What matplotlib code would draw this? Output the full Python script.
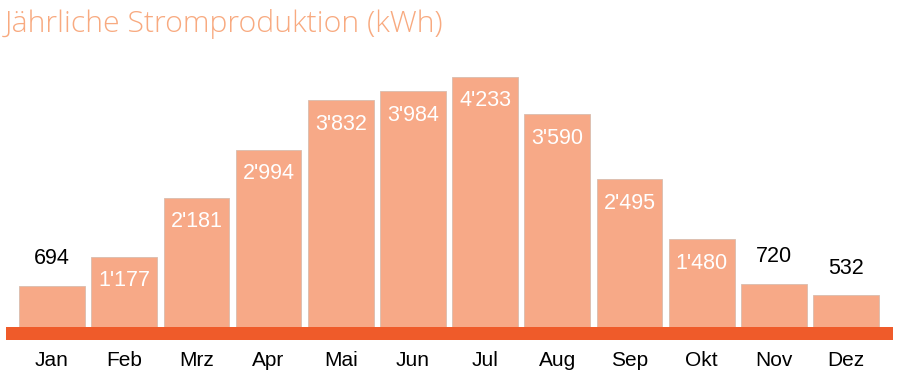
import matplotlib
matplotlib.use("Agg")
import matplotlib.pyplot as plt

months = ["Jan", "Feb", "Mrz", "Apr", "Mai", "Jun", "Jul", "Aug", "Sep", "Okt", "Nov", "Dez"]
values = [694, 1177, 2181, 2994, 3832, 3984, 4233, 3590, 2495, 1480, 720, 532]
labels = ["694", "1'177", "2'181", "2'994", "3'832", "3'984", "4'233", "3'590", "2'495", "1'480", "720", "532"]
title = "Jährliche Stromproduktion (kWh)"

W, H = 897, 378
fig = plt.figure(figsize=(W / 100, H / 100), dpi=100)
ax_left, ax_right = 6 / W, 893 / W
ax_bottom = (H - 340) / H
ax_top = (H - 20) / H
ax = fig.add_axes([ax_left, ax_bottom, ax_right - ax_left, ax_top - ax_bottom])

pxu = 250 / 4233.0
ymin = -13.5 / pxu
ymax = (326.5 - 20) / pxu
ax.set_ylim(ymin, ymax)
ax.set_xlim(-0.637, 11.65)

bar_color = "#F7A987"
ax.bar(range(12), values, width=0.91, color=bar_color, edgecolor="#D9BDAE", linewidth=0.6, zorder=2)
ax.axhspan(ymin, 0, color="#EF5B2A", zorder=3, lw=0)

inside_thresh = 1000
for i, (v, lab) in enumerate(zip(values, labels)):
    if v > inside_thresh:
        ax.text(i, v - 24 / pxu, lab, ha="center", va="center", color="white",
                fontsize=15.5, family="Liberation Sans", zorder=4)
    else:
        ax.text(i, v + 27 / pxu, lab, ha="center", va="center", color="black",
                fontsize=15.5, family="Liberation Sans", zorder=4)

for i, m in enumerate(months):
    ax.text(i, ymin - 20 / pxu, m, ha="center", va="center", color="black",
            fontsize=15, family="Liberation Sans", clip_on=False)

ax.axis("off")
fig.text(5 / W, 1 - 24 / H, title, ha="left", va="center", color="#F8AA80",
         fontsize=21.8, family="Open Sans", fontweight="light")

fig.savefig("out.png", dpi=100, facecolor="white")
